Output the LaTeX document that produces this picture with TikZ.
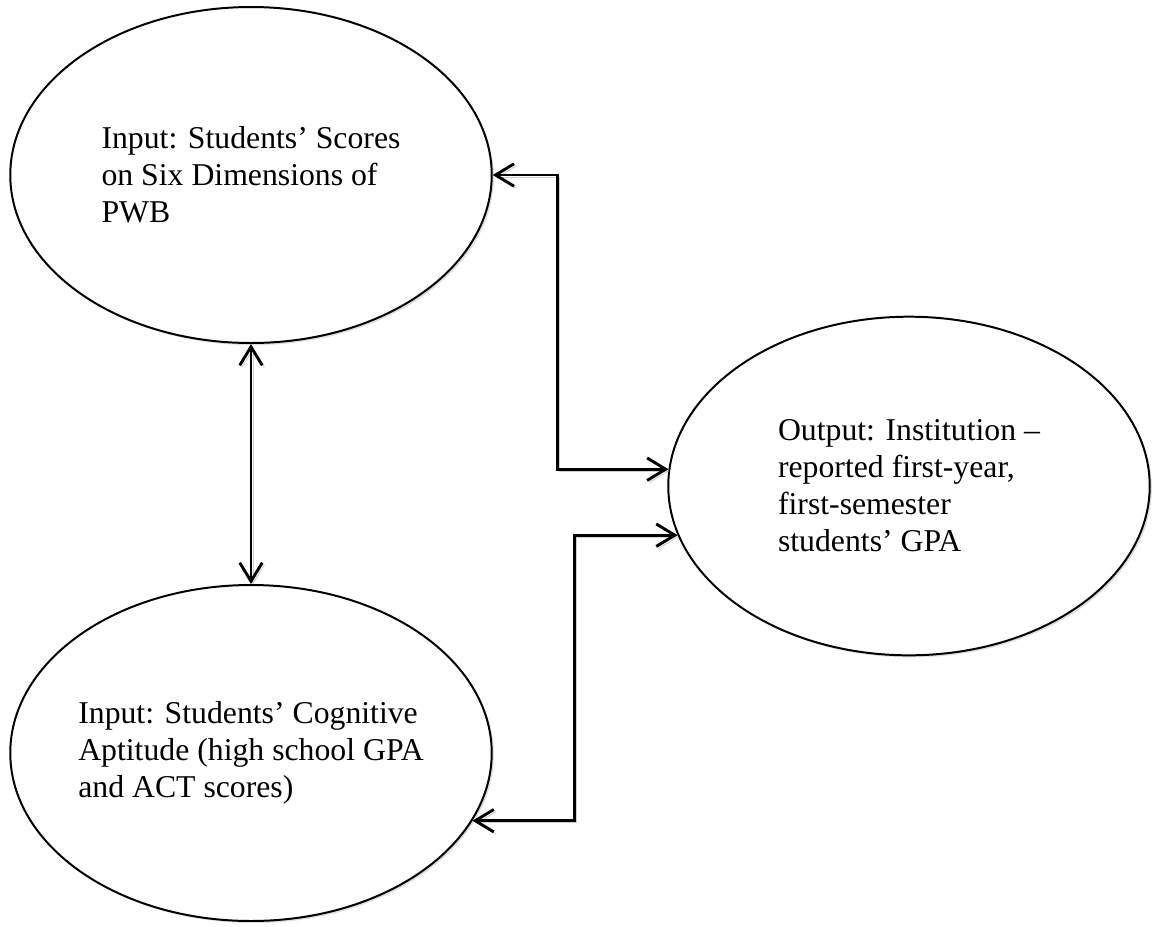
\documentclass[tikz,border=0pt]{standalone}
\usepackage{fontspec}
\setmainfont{Liberation Serif}
\usepackage{tikz}
\usetikzlibrary{arrows.meta, shapes.geometric, shadows}

\begin{document}
\begin{tikzpicture}[x=0.378pt, y=-0.378pt,
  every node/.style={font=\fontsize{12}{14}\selectfont},
  bubble/.style={draw, ellipse, fill=white, line width=0.75pt, align=left, inner sep=-2pt,
    minimum width=182pt, minimum height=127pt,
    drop shadow={shadow xshift=0.8pt, shadow yshift=-0.8pt, fill=black!25}},
  link/.style={line width=1.1pt, {Straight Barb[length=7pt,width=8.5pt]}-{Straight Barb[length=7pt,width=8.5pt]},
    preaction={draw=black!18, transform canvas={shift={(0.8pt,-0.8pt)}}}}]
\useasboundingbox (0,0) rectangle (1152,926);
\node[bubble] (pwb) at (251,175) {Input: Students’ Scores\\on Six Dimensions of\\PWB};
\node[bubble] (cog) at (251,753) {Input: Students’ Cognitive\\Aptitude (high school GPA\\and ACT scores)};
\node[bubble, minimum height=128pt] (gpa) at (909,486) {Output: Institution –\\reported first-year,\\first-semester\\students’ GPA};
\draw[link] (pwb.south) -- (cog.north);
\draw[link] (pwb.east) -- ++(65,0) |- (gpa.176);
\draw[link] (cog.343) -- ++(102,0) |- (gpa.192);
\end{tikzpicture}
\end{document}
